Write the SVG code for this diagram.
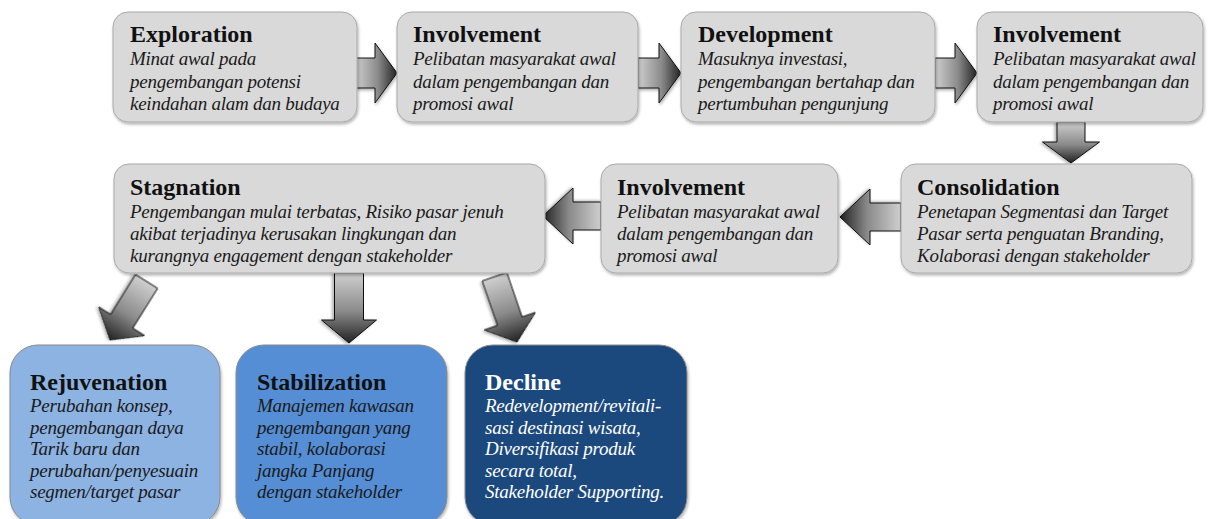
<svg xmlns="http://www.w3.org/2000/svg" width="1216" height="519" viewBox="0 0 1216 519">
  <defs>
    <linearGradient id="arrowFill" x1="0" y1="0" x2="1" y2="0">
      <stop offset="0" stop-color="#cfcfcf"/>
      <stop offset="0.55" stop-color="#8a8a8a"/>
      <stop offset="1" stop-color="#222"/>
    </linearGradient>
    <filter id="shadow" x="-10%" y="-10%" width="125%" height="130%">
      <feGaussianBlur in="SourceAlpha" stdDeviation="1.4"/>
      <feOffset dx="1" dy="1.5" result="b"/>
      <feComponentTransfer><feFuncA type="linear" slope="0.3"/></feComponentTransfer>
      <feMerge><feMergeNode/><feMergeNode in="SourceGraphic"/></feMerge>
    </filter>
  </defs>
  <style>
    .box { fill: #d9d9d9; stroke: #a9a9a9; stroke-width: 1; filter: url(#shadow); }
    .rej { fill: #8db3e2; stroke: #8a8a8a; stroke-width: 1; filter: url(#shadow); }
    .sta { fill: #558ed5; stroke: #8a8a8a; stroke-width: 1; filter: url(#shadow); }
    .dec { fill: #1f497d; stroke: #8a8a8a; stroke-width: 1; filter: url(#shadow); }
    text { font-family: "Liberation Serif", "Times New Roman", Times, serif; }
    .title { font-weight: bold; font-size: 24px; fill: #111; }
    .body { font-style: italic; font-size: 19px; letter-spacing: -0.25px; fill: #1a1a1a; }
    .light { fill: #ffffff; }
    .arrow { fill: url(#arrowFill); stroke: #111; stroke-width: 1; filter: url(#shadow); }
  </style>

  <!-- connectors: block arrows, each drawn pointing along +x with its tip at the origin -->
  <g id="connectors">
    <path class="arrow" transform="translate(397,73)" d="M-42,-15 H-22 V-30 L0,0 L-22,30 V15 H-42 Z"/>
    <path class="arrow" transform="translate(681,73)" d="M-43,-15 H-22 V-30 L0,0 L-22,30 V15 H-43 Z"/>
    <path class="arrow" transform="translate(977,73)" d="M-42,-15 H-22 V-30 L0,0 L-22,30 V15 H-42 Z"/>
    <path class="arrow" transform="translate(1071,163) rotate(90)" d="M-41,-14 H-21 V-28.5 L0,0 L-21,28.5 V14 H-41 Z"/>
    <path class="arrow" transform="translate(840,217) rotate(180)" d="M-61,-14 H-30 V-28 L0,0 L-30,28 V14 H-61 Z"/>
    <path class="arrow" transform="translate(543,216) rotate(180)" d="M-58,-14 H-30 V-28 L0,0 L-30,28 V14 H-58 Z"/>
    <path class="arrow" transform="translate(110,340) rotate(122)" d="M-69,-13 H-22 V-27 L0,0 L-22,27 V13 H-69 Z"/>
    <path class="arrow" transform="translate(349,343) rotate(90)" d="M-70,-14.5 H-23 V-27.5 L0,0 L-23,27.5 V14.5 H-70 Z"/>
    <path class="arrow" transform="translate(517,342) rotate(71)" d="M-69,-13 H-22 V-27 L0,0 L-22,27 V13 H-69 Z"/>
  </g>

  <g id="exploration">
    <rect class="box" x="113" y="12" width="244" height="110" rx="15"/>
    <text class="title" x="130" y="42">Exploration</text>
    <text class="body" x="130" y="65">Minat awal pada</text>
    <text class="body" x="130" y="88">pengembangan potensi</text>
    <text class="body" x="130" y="110">keindahan alam dan budaya</text>
  </g>

  <g id="involvement-1">
    <rect class="box" x="397" y="12" width="241" height="110" rx="15"/>
    <text class="title" x="413" y="42">Involvement</text>
    <text class="body" x="413" y="65">Pelibatan masyarakat awal</text>
    <text class="body" x="413" y="88">dalam pengembangan dan</text>
    <text class="body" x="413" y="110">promosi awal</text>
  </g>

  <g id="development">
    <rect class="box" x="681" y="12" width="254" height="110" rx="15"/>
    <text class="title" x="698" y="42">Development</text>
    <text class="body" x="698" y="65">Masuknya investasi,</text>
    <text class="body" x="698" y="88">pengembangan bertahap dan</text>
    <text class="body" x="698" y="110">pertumbuhan pengunjung</text>
  </g>

  <g id="involvement-2">
    <rect class="box" x="977" y="12" width="226" height="110" rx="15"/>
    <text class="title" x="993" y="42">Involvement</text>
    <text class="body" x="993" y="65">Pelibatan masyarakat awal</text>
    <text class="body" x="993" y="88">dalam pengembangan dan</text>
    <text class="body" x="993" y="110">promosi awal</text>
  </g>

  <g id="consolidation">
    <rect class="box" x="901" y="164" width="291" height="109" rx="15"/>
    <text class="title" x="917" y="195">Consolidation</text>
    <text class="body" x="917" y="218">Penetapan Segmentasi dan Target</text>
    <text class="body" x="917" y="240">Pasar serta penguatan Branding,</text>
    <text class="body" x="917" y="262">Kolaborasi dengan stakeholder</text>
  </g>

  <g id="involvement-3">
    <rect class="box" x="601" y="164" width="237" height="109" rx="15"/>
    <text class="title" x="617" y="195">Involvement</text>
    <text class="body" x="617" y="218">Pelibatan masyarakat awal</text>
    <text class="body" x="617" y="240">dalam pengembangan dan</text>
    <text class="body" x="617" y="262">promosi awal</text>
  </g>

  <g id="stagnation">
    <rect class="box" x="114" y="164" width="431" height="109" rx="15"/>
    <text class="title" x="130" y="195">Stagnation</text>
    <text class="body" x="130" y="218">Pengembangan mulai terbatas, Risiko pasar jenuh</text>
    <text class="body" x="130" y="240">akibat terjadinya kerusakan lingkungan dan</text>
    <text class="body" x="130" y="262">kurangnya engagement dengan stakeholder</text>
  </g>

  <g id="rejuvenation">
    <rect class="rej" x="10" y="345" width="210" height="180" rx="28"/>
    <text class="title" x="30" y="390">Rejuvenation</text>
    <text class="body" x="30" y="412">Perubahan konsep,</text>
    <text class="body" x="30" y="434">pengembangan daya</text>
    <text class="body" x="30" y="455">Tarik baru dan</text>
    <text class="body" x="30" y="477">perubahan/penyesuain</text>
    <text class="body" x="30" y="498">segmen/target pasar</text>
  </g>

  <g id="stabilization">
    <rect class="sta" x="236" y="345" width="211" height="180" rx="28"/>
    <text class="title" x="257" y="390">Stabilization</text>
    <text class="body" x="257" y="412">Manajemen kawasan</text>
    <text class="body" x="257" y="434">pengembangan yang</text>
    <text class="body" x="257" y="455">stabil, kolaborasi</text>
    <text class="body" x="257" y="477">jangka Panjang</text>
    <text class="body" x="257" y="498">dengan stakeholder</text>
  </g>

  <g id="decline">
    <rect class="dec" x="465" y="345" width="222" height="180" rx="28"/>
    <text class="title light" x="485" y="390">Decline</text>
    <text class="body light" x="485" y="412">Redevelopment/revitali-</text>
    <text class="body light" x="485" y="434">sasi destinasi wisata,</text>
    <text class="body light" x="485" y="455">Diversifikasi produk</text>
    <text class="body light" x="485" y="477">secara total,</text>
    <text class="body light" x="485" y="498">Stakeholder Supporting.</text>
  </g>
</svg>
